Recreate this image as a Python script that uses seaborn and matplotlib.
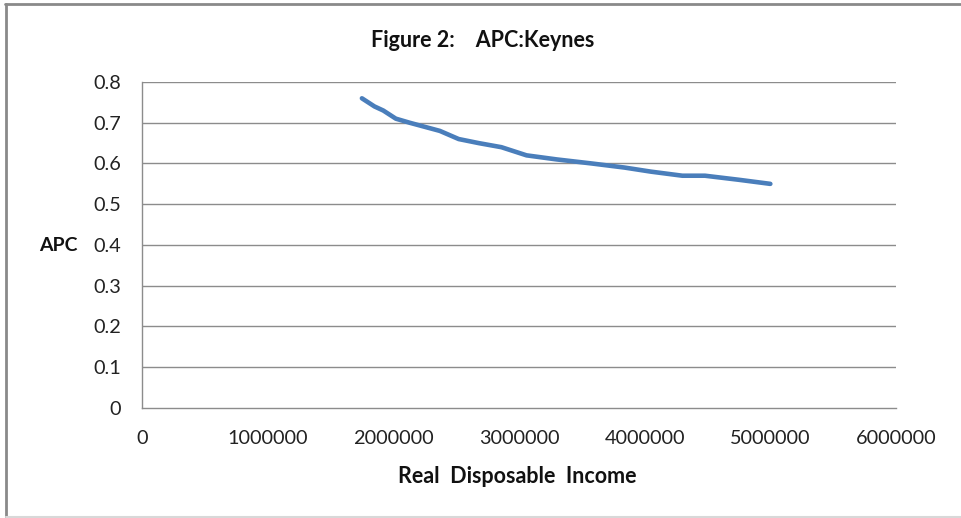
import matplotlib
matplotlib.use("Agg")
import matplotlib.pyplot as plt
from matplotlib.lines import Line2D
import seaborn as sns
import pandas as pd

# Real disposable income and average propensity to consume
income = [1750000, 1850000, 1920000, 2020000, 2130000, 2250000, 2370000,
          2520000, 2680000, 2860000, 3060000, 3300000, 3580000, 3840000,
          4050000, 4300000, 4480000, 4750000, 5000000]
apc = [0.76, 0.74, 0.73, 0.71, 0.70, 0.69, 0.68, 0.66, 0.65, 0.64, 0.62,
       0.61, 0.60, 0.59, 0.58, 0.57, 0.57, 0.56, 0.55]

x_ticks = [0, 1000000, 2000000, 3000000, 4000000, 5000000, 6000000]
y_ticks = [0, 0.1, 0.2, 0.3, 0.4, 0.5, 0.6, 0.7, 0.8]
y_tick_labels = ["0", "0.1", "0.2", "0.3", "0.4", "0.5", "0.6", "0.7", "0.8"]

df = pd.DataFrame({"income": income, "apc": apc})

sns.set_theme(style="white")
plt.rcParams["font.family"] = ["Lato", "DejaVu Sans"]

fig = plt.figure(figsize=(9.62, 5.18), dpi=100)
ax = fig.add_axes([0.1476, 0.2124, 0.7838, 0.6293])

sns.lineplot(data=df, x="income", y="apc", ax=ax, color="#4A7EBB",
             linewidth=3.3, sort=False, solid_capstyle="round")

ax.set_xlim(0, 6000000)
ax.set_ylim(0, 0.8)
ax.set_xticks(x_ticks)
ax.set_xticklabels([str(v) for v in x_ticks])
ax.set_yticks(y_ticks)
ax.set_yticklabels(y_tick_labels)

for y in y_ticks[1:]:
    ax.axhline(y, color="#8c8c8c", linewidth=1.0, zorder=0)

for side in ["top", "right"]:
    ax.spines[side].set_visible(False)
for side in ["left", "bottom"]:
    ax.spines[side].set_color("#8c8c8c")
    ax.spines[side].set_linewidth(1.0)

ax.tick_params(axis="both", which="major", direction="out", length=6,
               width=1.0, color="#8c8c8c", labelsize=14.3,
               labelcolor="#222222")
ax.tick_params(axis="x", pad=10)
ax.tick_params(axis="y", pad=9)

ax.set_xlabel("")
ax.set_ylabel("")

fig.text(0.502, 0.922, "Figure 2:    APC:Keynes", ha="center", va="center",
         fontsize=15.5, fontweight="bold", color="#111111")
fig.text(0.538, 0.081, "Real  Disposable  Income", ha="center", va="center",
         fontsize=15.5, fontweight="bold", color="#111111")
fig.text(0.061, 0.527, "APC", ha="center", va="center",
         fontsize=14, fontweight="bold", color="#111111")

# Outer frame of the chart area
fig.add_artist(Line2D([0.005, 1.0], [0.992, 0.992], transform=fig.transFigure,
                      color="#8a8a8a", linewidth=2.0))
fig.add_artist(Line2D([0.006, 0.006], [0.0, 0.992], transform=fig.transFigure,
                      color="#8a8a8a", linewidth=2.0))
fig.add_artist(Line2D([0.006, 1.0], [0.002, 0.002], transform=fig.transFigure,
                      color="#d8d8d8", linewidth=1.5))

fig.savefig("out.png", dpi=100, facecolor="white")
